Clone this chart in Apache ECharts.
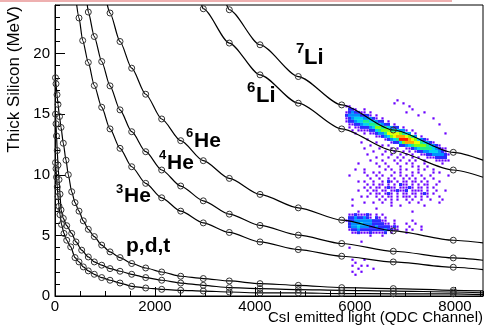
<!DOCTYPE html>
<html><head><meta charset="utf-8">
<script src="https://cdn.jsdelivr.net/npm/echarts@6/dist/echarts.min.js"></script>
<style>html,body{margin:0;padding:0;background:#fff}#c{width:485px;height:327px}</style>
</head><body><div id="c"></div>
<script>
// ---- identification curves (marker positions) ----
const tX = [10, 20, 40, 60, 90, 120, 166, 220, 266, 334, 400, 480, 566, 666, 786, 934, 1100, 1300, 1534, 1814, 2134, 2514, 2966, 3486, 4100, 4866, 5734, 6766, 7966];
const tY = [18.0, 17.5, 16.6, 15.8, 14.8, 13.9, 12.6, 11.2, 10.0, 8.6, 7.7, 7.0, 6.2, 5.5, 4.9, 4.2, 3.64, 3.17, 2.68, 2.31, 1.98, 1.63, 1.44, 1.24, 1.02, 0.88, 0.69, 0.61, 0.47];
const tEnd = [8560, 0.42];
const dX = [10, 20, 30, 45, 60, 80, 100, 120, 166, 234, 334, 420, 534, 666, 786, 934, 1100, 1300, 1534, 1814, 2134, 2514, 2966, 3486, 4100, 4866, 5734, 6766, 7966];
const dY = [15.0, 14.2, 13.2, 12.0, 10.8, 9.6, 8.4, 7.1, 6.4, 5.8, 5.16, 4.46, 3.78, 3.22, 2.81, 2.54, 2.26, 2.04, 1.79, 1.52, 1.30, 1.07, 0.88, 0.69, 0.61, 0.53, 0.47, 0.41, 0.33];
const dEnd = [8560, 0.26];
const pX = [10, 20, 30, 45, 60, 80, 100, 130, 180, 234, 314, 400, 480, 566, 666, 786, 934, 1100, 1300, 1534, 1814, 2134, 2514, 2966, 3486, 4100, 4866, 5734, 6766, 7966];
const pY = [11.0, 10.5, 9.8, 9.0, 8.2, 7.4, 6.7, 5.9, 5.16, 4.6, 4.05, 3.17, 2.81, 2.40, 2.07, 1.79, 1.52, 1.30, 1.07, 0.80, 0.66, 0.55, 0.47, 0.41, 0.33, 0.25, 0.25, 0.2, 0.18, 0.18];
const pEnd = [8560, 0.12];

const he3X = [480, 554, 666, 786, 934, 1100, 1300, 1534, 1814, 2134, 2514, 2966, 3486, 4100, 4866, 5734, 6766, 7966];
const he3Y = [22.93, 21.07, 19.26, 17.36, 15.57, 13.78, 12.18, 10.66, 9.29, 8.10, 7.00, 6.03, 5.24, 4.46, 3.83, 3.28, 2.81, 2.37];
const he3Ends = [[434, 24], [8560, 2.18]];
const he4X = [666, 786, 934, 1100, 1300, 1534, 1814, 2134, 2514, 2966, 3486, 4100, 4866, 5734, 6766, 7966];
const he4Y = [23.42, 21.40, 19.34, 17.33, 15.35, 13.55, 11.90, 10.39, 9.07, 7.85, 6.75, 5.82, 5.02, 4.33, 3.69, 3.14];
const he4Ends = [[646, 24], [8560, 2.95]];
const he6X = [1100, 1300, 1534, 1814, 2134, 2514, 2966, 3486, 4100, 4866, 5734, 6766, 7966];
const he6Y = [23.34, 20.99, 18.79, 16.64, 14.60, 12.81, 11.16, 9.70, 8.38, 7.27, 6.26, 5.37, 4.60];
const he6Ends = [[1046, 24], [8560, 4.38]];
const li6X = [2966, 3486, 4100, 4866, 5734, 6766, 7966];
const li6Y = [23.69, 20.86, 18.24, 15.90, 13.78, 11.98, 10.39];
const li6Ends = [[2934, 24], [8560, 9.79]];
const li7X = [3486, 4100, 4866, 5734, 6766, 7966];
const li7Y = [23.61, 20.72, 18.10, 15.76, 13.69, 11.85];
const li7Ends = [[3434, 24], [8560, 11.21]];

// ---- 2D histogram counts (levels 1..9, '.' = empty), bins of 60 x 0.248 ----
const histX0 = 5800, histDX = 60, histYTop = 16.26, histDY = 0.248;
const histRows = [
"..........|.......1..|..........|.........",
"..........|......1..1|..........|.........",
"11........|..........|.1........|.........",
".221..1...|..........|..1.......|.........",
"1232211.1.|..........|1.....1...|.........",
"233332221.|1.........|....1.....|.........",
"1234443332|1.1.......|.........1|.........",
"1223445544|322.1.....|..........|.........",
".112234455|54322.1...|..........|.1.......",
".1.1122234|66554322.1|..........|.........",
"..1.111122|4566655433|1.1.......|.........",
"...1..1.11|2335777765|43.1......|...1.....",
"..........|1123467888|7653.1....|.........",
".......1..|...1234599|98764321..|.........",
".....1....|1....12246|8887754321|.........",
"........1.|..1.1...22|3456666543|21.......",
"......1...|.1...1.1..|1123455554|3211.....",
".........1|...1..1..1|.1.1223344|4321.....",
".......1..|..1..1..1.|1.1..11223|33321....",
"..........|1...1..1.1|..1.1..111|2222.....",
"........1.|..1...1.1.|.1.1..1...|11111....",
"....1.....|1..1...1..|1.1...1...|..1......",
"..........|.1..1...1.|..1.1..1..|.........",
"...1..1...|...1.1..1.|1...1.1..1|.........",
"......1..1|.1....1.1.|..1.1....1|.1.......",
".1.....1..|1.1..1..1.|1.1..1..1.|....1....",
"........1.|.1..1.1..1|.1.1..1..1|.........",
"....1.1..1|..1.21.1.1|1.11.1.1..|.1.......",
".......1.1|.11.1.1.21|1.1.1.11..|1........",
"......1.1.|11.1211.11|121.11.1.1|.........",
"....1..1.1|1.11.11211|2.1111.1..|1..1.....",
"........1.|11.121.1.1|1.11.121.1|.........",
".....1.1..|1.1.11.1.1|11.1.1.1..|.1.......",
"..1.......|.1.1.1.1..|1.1..1..1.|..1......",
"......1..1|..1..1....|.1..1.....|.1.......",
"..1.......|.....1..1.|......1...|.........",
"..........|1.........|..........|.........",
"....1.....|..........|..1.......|.........",
".11211121.|1.1.......|..........|.........",
".22322321.|21.1......|..........|.........",
"1223333332|2211..1...|..1.......|.........",
".233343332|22211.1...|1..1......|.........",
".233433322|32222121..|.1...1....|.........",
".122322222|22232211..|1.1..1....|.........",
"..11211121|1112.1....|1.........|.........",
"........1.|..1.......|..........|.........",
"..........|..........|..........|.........",
".....1....|..........|..........|.........",
"..........|..........|..........|.........",
".1........|..........|..........|.........",
"..........|..........|..........|.........",
"..........|..........|..........|.........",
"..........|..........|..........|.........",
"..1...1...|..........|..........|.........",
"...1......|..........|..........|.........",
"..1..1.1..|..........|..........|.........",
"....1....1|..........|..........|.........",
"..1..1....|..........|..........|.........",
"...1......|..........|..........|........."
];
const histColors = ['#6a00ff', '#2b2bff', '#0090ff', '#00d4f0', '#1cf08a', '#80ff10', '#e8ff00', '#ffa800', '#ff1a00'];

// ---- axes ----
const xTicks = [0, 2000, 4000, 6000, 8000];
const yTicks = [0, 5, 10, 15, 20];

function curveData(xs, ys, ends) {
  const out = [];
  if (ends.length === 2) out.push({ value: ends[0], symbol: 'none' });
  for (let i = 0; i < xs.length; i++) out.push([xs[i], ys[i]]);
  out.push({ value: ends[ends.length - 1], symbol: 'none' });
  return out;
}
const histData = [];
histRows.forEach(function (raw, r) {
  const row = raw.replace(/\|/g, '');
  for (let c = 0; c < row.length; c++) {
    const ch = row[c];
    if (ch >= '1' && ch <= '9') histData.push([histX0 + histDX * (c + 0.5), histYTop - histDY * (r + 0.5), +ch]);
  }
});

const lineBase = {
  type: 'line', smooth: 0.25, smoothMonotone: 'x', symbol: 'circle', symbolSize: 6, showSymbol: true,
  lineStyle: { color: '#000', width: 1.2 },
  itemStyle: { color: 'rgba(0,0,0,0)', borderColor: '#333', borderWidth: 1 },
  clip: true, silent: true, z: 3
};
function curve(name, data) { return Object.assign({ name: name, data: data }, lineBase); }

const FONT = 'Liberation Sans, Arial, Helvetica, sans-serif';
const chart = echarts.init(document.getElementById('c'), null, { renderer: 'canvas' });
chart.setOption({
  animation: false,
  backgroundColor: '#fff',
  grid: { left: 55, right: 2, top: 5, bottom: 31, show: true, borderColor: '#000', borderWidth: 1, containLabel: false },
  xAxis: [
    { type: 'value', min: 0, max: 8560, interval: 2000, position: 'bottom',
      axisLine: { lineStyle: { color: '#000', width: 1 } },
      axisTick: { inside: true, length: 9, lineStyle: { color: '#000' } },
      axisLabel: { color: '#000', fontSize: 15, fontFamily: FONT, margin: 3, showMaxLabel: false,
        formatter: function (v) { return xTicks.indexOf(v) >= 0 ? String(v) : ''; } },
      splitLine: { show: false } },
    { type: 'value', min: 0, max: 8560, interval: 500, position: 'bottom',
      axisLine: { show: false }, axisTick: { inside: true, length: 5, lineStyle: { color: '#000' } },
      axisLabel: { show: false }, splitLine: { show: false } }
  ],
  yAxis: [
    { type: 'value', min: 0, max: 24, interval: 5, position: 'left',
      axisLine: { show: true, lineStyle: { color: '#000', width: 1 } },
      axisTick: { show: true, inside: true, length: 10, lineStyle: { color: '#000' } },
      axisLabel: { color: '#000', fontSize: 15, fontFamily: FONT, margin: 5, showMaxLabel: false,
        formatter: function (v) { return yTicks.indexOf(v) >= 0 ? String(v) : ''; } },
      splitLine: { show: false } },
    { type: 'value', min: 0, max: 24, interval: 1, position: 'left',
      axisLine: { show: false }, axisTick: { show: true, inside: true, length: 5, lineStyle: { color: '#000' } },
      axisLabel: { show: false }, splitLine: { show: false } }
  ],
  visualMap: {
    type: 'piecewise', show: false, dimension: 2, seriesIndex: 0,
    pieces: histColors.map(function (col, i) { return { value: i + 1, color: col }; })
  },
  series: [
    { type: 'scatter', data: histData, symbol: 'rect',
      symbolSize: function (v) { return v[2] === 1 ? 2.2 : 3; },
      silent: true, z: 1, itemStyle: { opacity: 1 } },
    curve('p', curveData(pX, pY, [pEnd])),
    curve('d', curveData(dX, dY, [dEnd])),
    curve('t', curveData(tX, tY, [tEnd])),
    curve('3He', curveData(he3X, he3Y, he3Ends)),
    curve('4He', curveData(he4X, he4Y, he4Ends)),
    curve('6He', curveData(he6X, he6Y, he6Ends)),
    curve('6Li', curveData(li6X, li6Y, li6Ends)),
    curve('7Li', curveData(li7X, li7Y, li7Ends))
  ],
  graphic: [
    { type: 'rect', shape: { x: 0, y: 0, width: 452, height: 2 }, style: { fill: '#eeb0b0' }, silent: true },
    { type: 'text', x: 483, y: 318, style: { text: 'CsI emitted light (QDC Channel)', font: '15px ' + FONT, fill: '#000', textAlign: 'right', textVerticalAlign: 'middle' } },
    { type: 'text', x: 14, y: 6, rotation: Math.PI / 2, style: { text: 'Thick Silicon (MeV)', font: '17px ' + FONT, fill: '#000', textAlign: 'right', textVerticalAlign: 'middle' } },
    { type: 'text', x: 126, y: 246, style: { text: 'p,d,t', font: 'bold 21px ' + FONT, fill: '#000', textVerticalAlign: 'middle' } },
    { type: 'text', x: 116, y: 189, style: { text: '3', font: 'bold 13px ' + FONT, fill: '#000', textVerticalAlign: 'middle' } },
    { type: 'text', x: 124, y: 196, style: { text: 'He', font: 'bold 21px ' + FONT, fill: '#000', textVerticalAlign: 'middle' } },
    { type: 'text', x: 159, y: 155, style: { text: '4', font: 'bold 13px ' + FONT, fill: '#000', textVerticalAlign: 'middle' } },
    { type: 'text', x: 167, y: 163, style: { text: 'He', font: 'bold 21px ' + FONT, fill: '#000', textVerticalAlign: 'middle' } },
    { type: 'text', x: 186, y: 133, style: { text: '6', font: 'bold 13px ' + FONT, fill: '#000', textVerticalAlign: 'middle' } },
    { type: 'text', x: 194, y: 141, style: { text: 'He', font: 'bold 21px ' + FONT, fill: '#000', textVerticalAlign: 'middle' } },
    { type: 'text', x: 247, y: 88, style: { text: '6', font: 'bold 15px ' + FONT, fill: '#000', textVerticalAlign: 'middle' } },
    { type: 'text', x: 256, y: 96, style: { text: 'Li', font: 'bold 22px ' + FONT, fill: '#000', textVerticalAlign: 'middle' } },
    { type: 'text', x: 296, y: 49, style: { text: '7', font: 'bold 15px ' + FONT, fill: '#000', textVerticalAlign: 'middle' } },
    { type: 'text', x: 304, y: 58, style: { text: 'Li', font: 'bold 22px ' + FONT, fill: '#000', textVerticalAlign: 'middle' } }
  ]
});
</script></body></html>
